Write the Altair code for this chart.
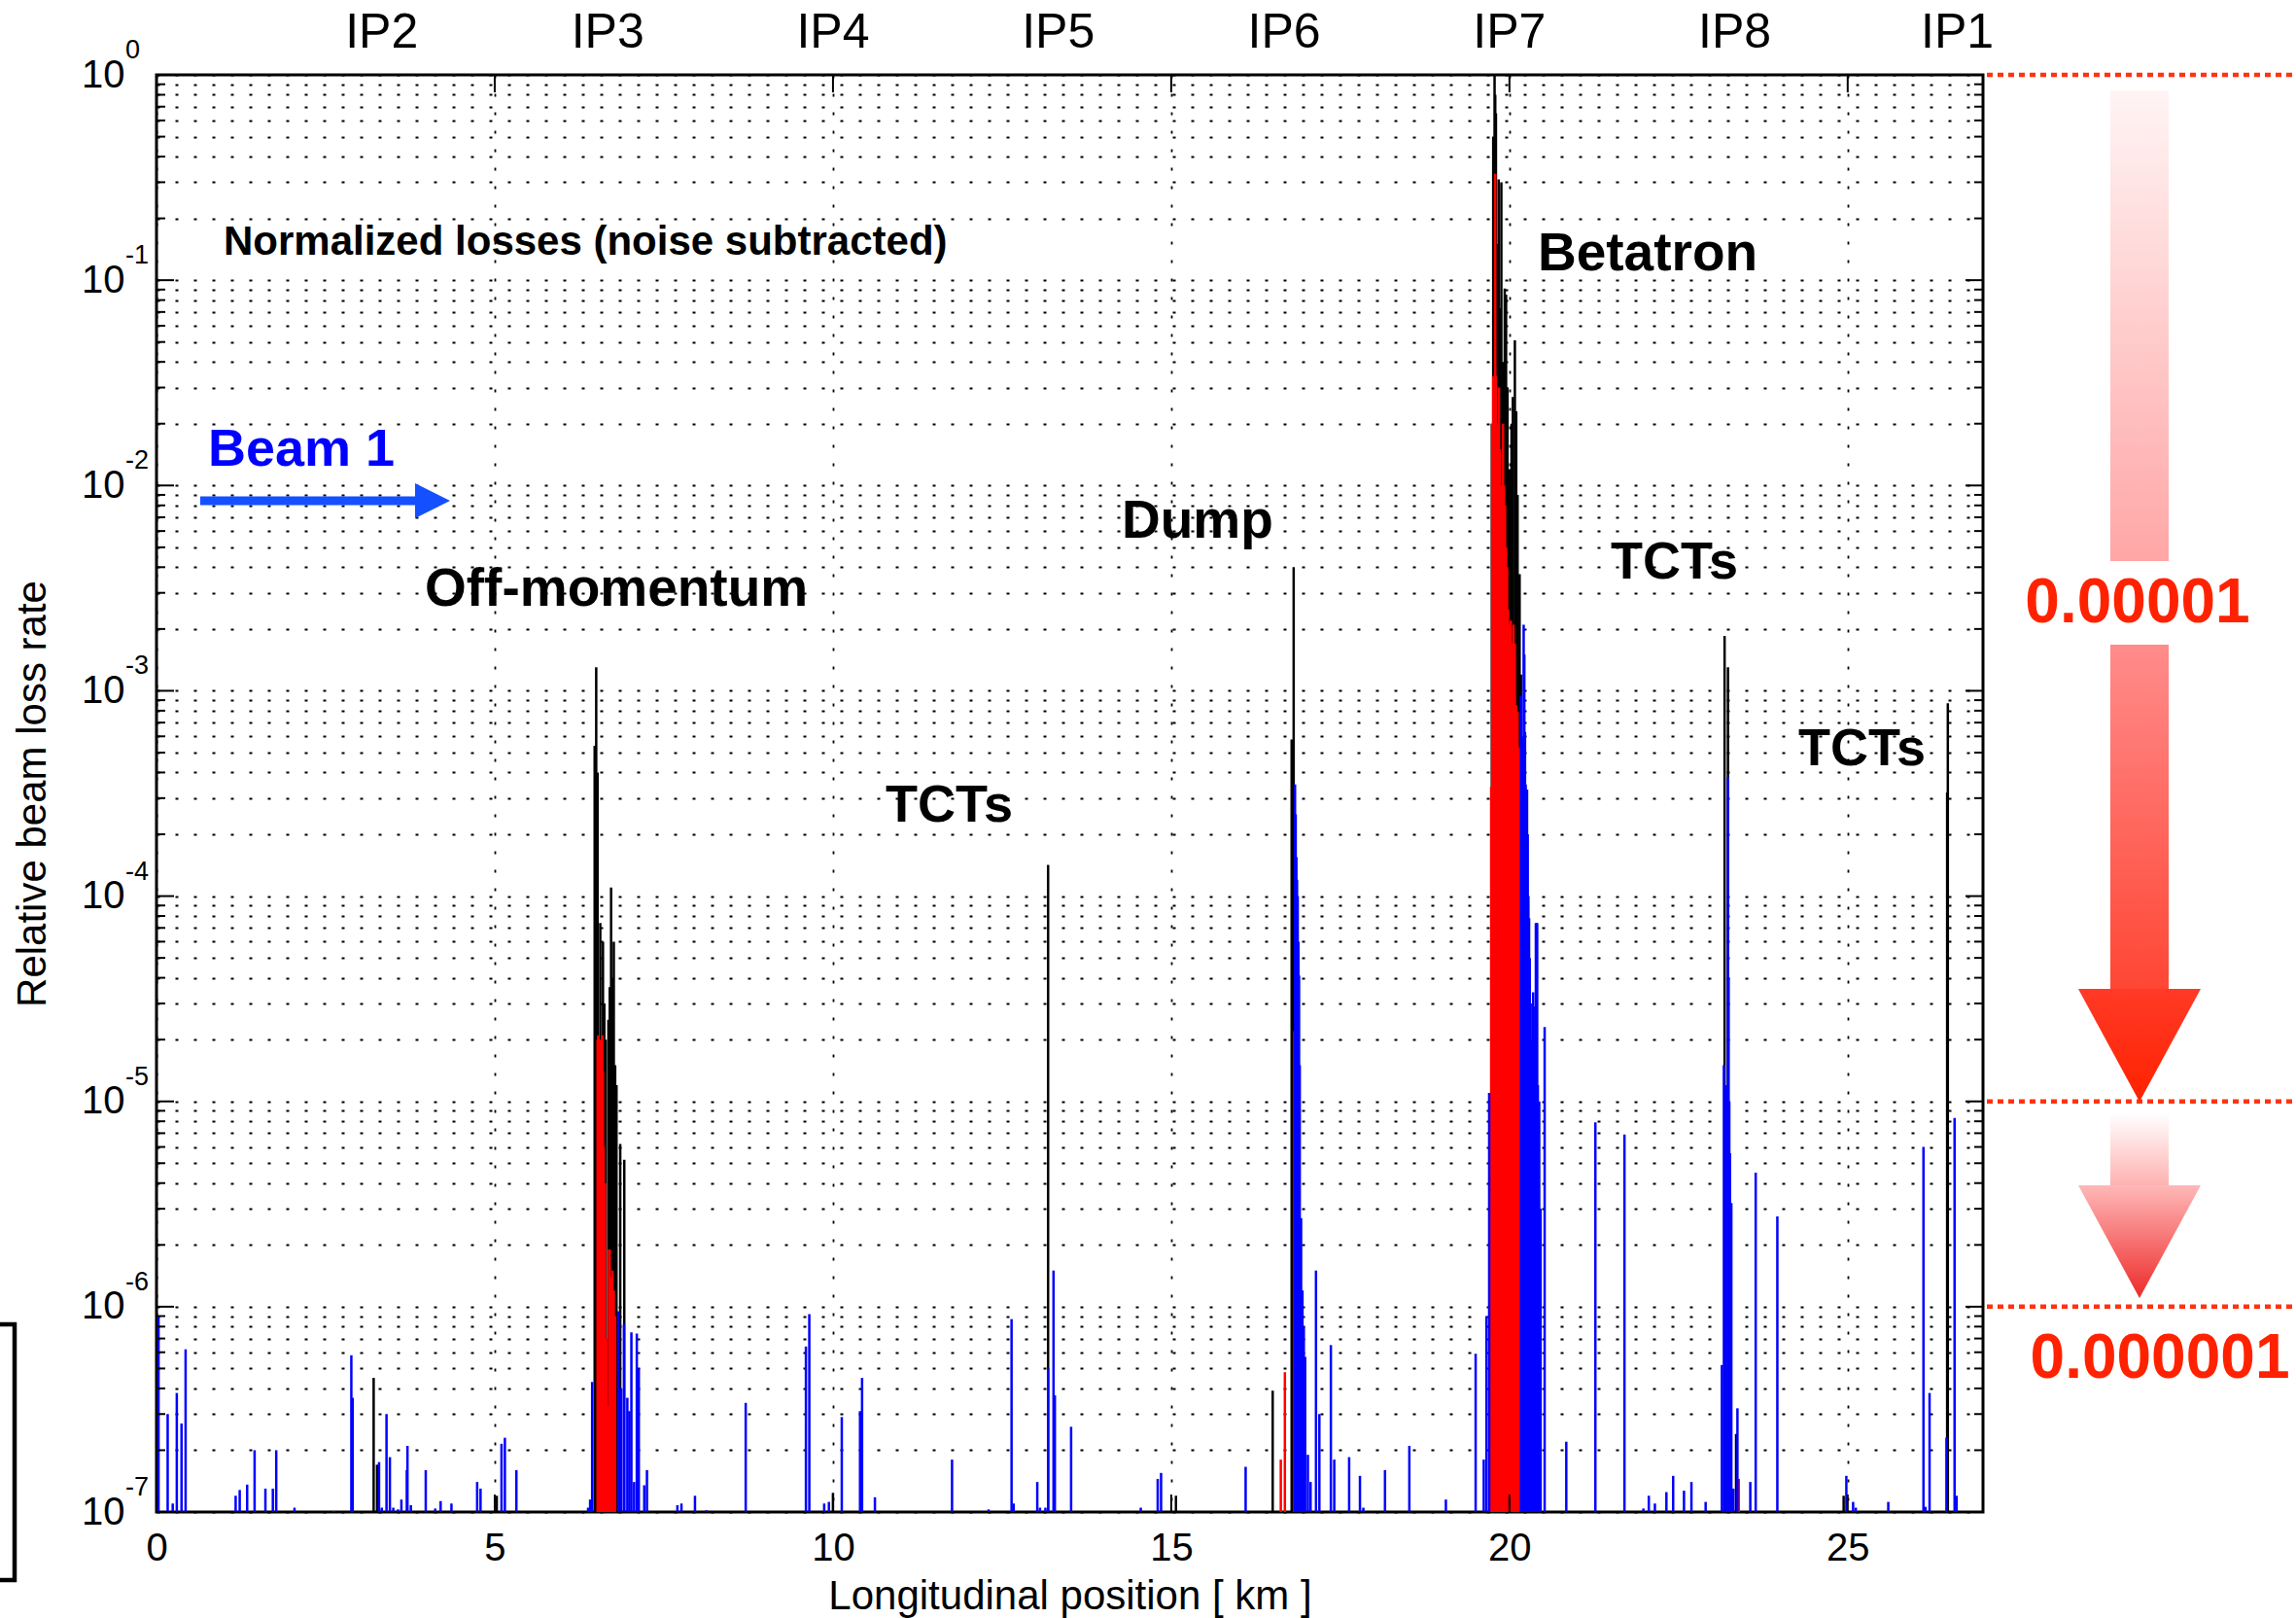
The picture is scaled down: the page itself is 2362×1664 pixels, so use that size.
import altair as alt
import pandas as pd

# ---------------- data (km, relative loss rate) ----------------
black_spikes = [
    (3.21, 4.5e-7), (3.26, 1.7e-7), (5.03, 1.2e-7),
    (6.477, 5.4e-4), (6.50, 1.3e-3), (6.52, 4.0e-4), (6.54, 1.5e-5), (6.56, 7.4e-5),
    (6.60, 6.0e-5), (6.62, 3.0e-5), (6.64, 2.0e-5), (6.68, 2.5e-5), (6.70, 3.6e-5),
    (6.72, 1.1e-4), (6.74, 4.0e-5), (6.76, 6.0e-5), (6.78, 1.5e-5), (6.80, 1.2e-5),
    (6.855, 6.2e-6), (6.915, 5.2e-6),
    (10.00, 1.24e-7), (13.18, 1.42e-4), (15.07, 1.2e-7),
    (16.50, 3.9e-7), (16.78, 5.8e-4), (16.81, 4.0e-3),
    (19.74, 0.02), (19.76, 0.5), (19.78, 1.0), (19.79, 0.8), (19.80, 0.65), (19.82, 0.15),
    (19.84, 0.31), (19.86, 0.073), (19.88, 0.30), (19.90, 0.04), (19.93, 0.091),
    (19.95, 0.085), (19.97, 0.03), (20.00, 0.012), (20.03, 0.02), (20.05, 0.027),
    (20.08, 0.051), (20.10, 0.023), (20.12, 0.009), (20.15, 3.7e-3), (20.17, 1.2e-3),
    (20.19, 5.0e-4),
    (23.18, 1.85e-3), (23.23, 1.3e-3), (23.35, 2.4e-7), (24.94, 1.2e-7),
    (26.47, 3.2e-4), (26.48, 8.7e-4),
]

red_spikes = [
    (6.52, 2.0e-5), (6.53, 2.1e-5), (6.54, 2.0e-5), (6.55, 1.6e-5), (6.56, 1.2e-5),
    (6.57, 2.0e-5), (6.58, 1.8e-5), (6.59, 2.1e-5), (6.60, 1.4e-5), (6.61, 6.0e-6),
    (6.63, 4.0e-6), (6.65, 7.0e-7), (6.67, 3.3e-7), (6.69, 1.9e-6), (6.70, 1.9e-6),
    (6.72, 1.4e-6), (6.74, 1.5e-6), (6.76, 1.2e-6), (6.78, 9.0e-7),
    (16.62, 1.8e-7), (16.68, 4.8e-7), (16.82, 2.2e-5), (16.84, 1.4e-5), (16.86, 3.0e-6),
    (16.88, 1.0e-6),
    (19.73, 3.4e-4), (19.745, 0.02), (19.76, 0.034), (19.775, 0.03), (19.79, 0.33),
    (19.80, 0.034), (19.815, 0.02), (19.83, 0.015), (19.845, 0.03), (19.86, 0.015),
    (19.875, 0.006), (19.89, 0.01), (19.905, 0.02), (19.92, 0.01), (19.935, 0.008),
    (19.95, 0.005), (19.965, 0.004), (19.98, 2.5e-3), (20.00, 2.1e-3), (20.02, 2.2e-3),
    (20.04, 1.7e-3), (20.06, 2.1e-3), (20.08, 1.7e-3), (20.10, 8.5e-4), (20.12, 7.9e-4),
    (20.14, 5.3e-4), (20.16, 5.2e-4), (20.18, 3.0e-4),
    (23.39, 1.45e-7),
]

blue_spikes = [
    (0.02, 1.2e-7), (0.03, 9.0e-7), (0.165, 3.0e-7), (0.24, 1.1e-7), (0.30, 3.8e-7),
    (0.37, 2.7e-7), (0.43, 6.2e-7),
    (1.17, 1.2e-7), (1.23, 1.28e-7), (1.34, 1.36e-7), (1.45, 2.0e-7), (1.61, 1.3e-7),
    (1.72, 1.3e-7), (1.77, 2.0e-7), (2.04, 1.05e-7), (2.62, 1.01e-7), (2.88, 5.8e-7),
    (2.90, 3.6e-7),
    (3.29, 1.75e-7), (3.33, 1.05e-7), (3.40, 3.0e-7), (3.45, 1.85e-7), (3.50, 1.05e-7),
    (3.57, 1.03e-7), (3.62, 1.15e-7), (3.70, 1.6e-7), (3.71, 2.1e-7), (3.76, 1.08e-7),
    (3.98, 1.6e-7), (4.12, 1.04e-7), (4.20, 1.13e-7), (4.36, 1.1e-7), (4.74, 1.4e-7),
    (4.79, 1.3e-7), (5.10, 2.15e-7), (5.15, 2.3e-7), (5.32, 1.6e-7),
    (6.38, 1.05e-7), (6.41, 1.15e-7), (6.44, 4.3e-7),
    (6.83, 9.5e-7), (6.87, 4.0e-7), (6.91, 8.2e-7), (6.96, 3.6e-7), (6.99, 3.1e-7),
    (7.02, 7.5e-7), (7.06, 1.4e-7), (7.10, 7.4e-7), (7.13, 5.0e-7), (7.21, 1.35e-7),
    (7.25, 1.6e-7),
    (7.70, 1.08e-7), (7.76, 1.1e-7), (7.96, 1.2e-7), (8.13, 1.02e-7), (8.71, 3.4e-7),
    (9.60, 6.4e-7), (9.65, 9.2e-7), (9.87, 1.1e-7), (9.94, 1.12e-7), (10.13, 2.9e-7),
    (10.40, 3.1e-7), (10.43, 4.5e-7), (10.62, 1.18e-7), (11.76, 1.8e-7), (12.30, 1.03e-7),
    (12.64, 8.7e-7), (12.67, 1.1e-7), (13.02, 1.4e-7), (13.06, 1.05e-7), (13.14, 1.05e-7),
    (13.18, 5.0e-7), (13.26, 1.5e-6), (13.28, 3.7e-7), (13.52, 2.6e-7),
    (14.55, 1.05e-7), (14.80, 1.45e-7), (14.85, 1.55e-7), (16.10, 1.66e-7),
    (16.83, 3.5e-4), (16.84, 2.5e-4), (16.85, 1.55e-4), (16.86, 1.2e-4), (16.87, 1.0e-4),
    (16.88, 6.0e-5), (16.89, 4.1e-5), (16.90, 1.5e-5), (16.92, 2.7e-6), (16.94, 1.2e-6),
    (16.96, 8.0e-7), (16.98, 5.7e-7), (17.02, 1.9e-7), (17.06, 1.4e-7), (17.14, 1.5e-6),
    (17.19, 3.0e-7), (17.36, 6.5e-7), (17.41, 1.8e-7), (17.63, 1.85e-7), (17.79, 1.5e-7),
    (17.84, 1.05e-7), (18.16, 1.6e-7), (18.52, 2.1e-7), (19.06, 1.15e-7),
    (19.50, 5.9e-7), (19.62, 1.8e-7), (19.66, 9.0e-7), (19.70, 1.1e-5),
    (20.17, 9.4e-4), (20.19, 6.0e-4), (20.21, 2.1e-3), (20.22, 1.5e-3), (20.23, 6.3e-4),
    (20.24, 3.5e-4), (20.25, 1.3e-4), (20.26, 3.3e-4), (20.27, 2.0e-4), (20.28, 1.0e-4),
    (20.29, 7.8e-5), (20.30, 5.0e-5), (20.31, 3.0e-5), (20.32, 2.0e-5), (20.33, 1.5e-5),
    (20.34, 3.0e-5), (20.35, 3.4e-5), (20.36, 2.0e-5), (20.37, 1.5e-5), (20.38, 2.9e-5),
    (20.39, 7.4e-5), (20.40, 4.5e-5), (20.41, 7.4e-5), (20.42, 1.2e-5), (20.44, 1.0e-5),
    (20.46, 3.0e-6), (20.52, 2.3e-5),
    (20.84, 2.2e-7), (21.27, 7.9e-6), (21.70, 6.9e-6), (21.98, 1.04e-7), (22.06, 1.2e-7),
    (22.15, 1.1e-7), (22.32, 1.25e-7), (22.42, 1.5e-7), (22.58, 1.27e-7), (22.69, 1.4e-7),
    (22.90, 1.12e-7),
    (23.14, 5.2e-7), (23.17, 1.5e-5), (23.20, 1.2e-5), (23.23, 3.8e-4), (23.24, 4.0e-5),
    (23.25, 1.0e-5), (23.26, 5.6e-6), (23.27, 1.5e-6), (23.28, 3.2e-6), (23.31, 1.3e-7),
    (23.37, 3.2e-7), (23.56, 1.4e-7), (23.64, 4.5e-6), (23.96, 2.75e-6),
    (24.98, 1.5e-7), (25.08, 1.12e-7), (25.12, 1.05e-7), (25.60, 1.12e-7), (26.12, 6.0e-6),
    (26.15, 1.06e-7), (26.21, 3.8e-7), (26.46, 2.3e-7), (26.58, 8.3e-6), (26.61, 1.2e-7),
]

ip_names = ["IP2", "IP3", "IP4", "IP5", "IP6", "IP7", "IP8", "IP1"]
ip_km = [3.33, 6.67, 10.0, 13.33, 16.67, 20.0, 23.33, 26.62]
x_tick_km = [0, 5, 10, 15, 20, 25]
y_exponents = [0, -1, -2, -3, -4, -5, -6, -7]
threshold_levels = [1.0, 1e-5, 1e-6]

# ---------------- layout ----------------
W, H = 1879, 1478
DEC = H / 7.0
FONT = "Liberation Sans, Arial, sans-serif"
BOLD = "Liberation Sans, Arial, sans-serif"


def lv(px_from_top):
    """y value (data units, log axis) at a pixel offset from the top of the plot."""
    return 10 ** (-px_from_top / DEC)


xs = alt.Scale(domain=[0, 27], nice=False, zero=False)
ys = alt.Scale(type="log", domain=[1e-7, 1], nice=False)

y_grid_vals = [k * 10.0 ** e for e in range(-7, 0) for k in range(1, 10)] + [1.0]
y_major = [10.0 ** e for e in y_exponents]
y_minor = [v for v in y_grid_vals if all(abs(v / m - 1) > 1e-9 for m in y_major)]

xaxis = alt.Axis(
    values=x_tick_km, grid=True, gridDash=[3, 16], gridColor="#000", gridWidth=1.8,
    ticks=False, domain=False, labelFont=FONT, labelFontSize=40, labelColor="#000",
    labelPadding=17, labelFlush=False,
    title="Longitudinal position [ km ]", titleFont=FONT, titleFontSize=42,
    titleFontWeight="normal", titleColor="#000", titleX=W / 2, titleY=86,
    titleBaseline="middle", titleAlign="center",
)
yaxis = alt.Axis(
    values=y_grid_vals, grid=True, gridDash=[3, 16], gridColor="#000", gridWidth=1.8,
    ticks=False, domain=False,
    labelExpr="abs(log(datum.value)/LN10 - round(log(datum.value)/LN10)) < 0.001 ? '10' : ''",
    labelFont=FONT, labelFontSize=40, labelColor="#000", labelPadding=33,
    labelOverlap=False, labelFlush=False, labelBaseline="middle",
    title="Relative beam loss rate", titleFont=FONT, titleFontSize=42,
    titleFontWeight="normal", titleColor="#000", titleX=-128, titleY=H / 2,
    titleAngle=270, titleBaseline="middle", titleAlign="center",
)


def X(field):
    return alt.X(field, scale=xs, axis=xaxis)


def Y(field):
    return alt.Y(field, scale=ys, axis=yaxis)


def spikes(pairs, color):
    df = pd.DataFrame(pairs, columns=["km", "val"])
    return alt.Chart(df).mark_rule(color=color, strokeWidth=2.5).encode(
        x=X("km:Q"), y=Y("val:Q"), y2=alt.datum(1e-7),
    )


def note(text, x, y, size, color="black", font=BOLD, weight="bold", align="left"):
    return alt.Chart(pd.DataFrame({"t": [text]})).mark_text(
        align=align, baseline="middle", fontSize=size, fontWeight=weight,
        color=color, font=font,
    ).encode(x=alt.value(x), y=alt.value(y), text="t:N")


def vgrad(c0, c1):
    return alt.LinearGradient(
        gradient="linear",
        stops=[alt.GradientStop(color=c0, offset=0), alt.GradientStop(color=c1, offset=1)],
        x1=0, x2=0, y1=0, y2=1,
    )


layers = []
layers.append(spikes(black_spikes, "#000000"))
layers.append(spikes(red_spikes, "#ff0000"))
layers.append(spikes(blue_spikes, "#0000ff"))

# inward ticks
maj = pd.DataFrame({"v": y_major})
mnr = pd.DataFrame({"v": y_minor})
for d, L in ((maj, 18), (mnr, 9)):
    layers.append(alt.Chart(d).mark_rule(color="black", strokeWidth=2).encode(
        y=Y("v:Q"), x=alt.value(0), x2=alt.value(L)))
    layers.append(alt.Chart(d).mark_rule(color="black", strokeWidth=2).encode(
        y=Y("v:Q"), x=alt.value(W - L), x2=alt.value(W)))
xt = pd.DataFrame({"km": x_tick_km})
layers.append(alt.Chart(xt).mark_rule(color="black", strokeWidth=2).encode(
    x=X("km:Q"), y=alt.value(H - 18), y2=alt.value(H)))
layers.append(alt.Chart(xt).mark_rule(color="black", strokeWidth=2).encode(
    x=X("km:Q"), y=alt.value(0), y2=alt.value(18)))

# exponents of the y labels
exp_df = pd.DataFrame({"v": y_major, "t": [str(e) for e in y_exponents]})
layers.append(alt.Chart(exp_df).mark_text(
    align="left", baseline="middle", font=FONT, fontSize=27, dy=-25, color="black"
).encode(x=alt.value(-32), y=Y("v:Q"), text="t:N"))

# IP labels on top
ip_df = pd.DataFrame({"km": ip_km, "name": ip_names})
layers.append(alt.Chart(ip_df).mark_text(
    align="center", baseline="middle", font=FONT, fontSize=50, color="black"
).encode(x=X("km:Q"), y=alt.value(-43), text="name:N"))

# annotations
layers.append(note("Normalized losses (noise subtracted)", 69, 172, 42))
layers.append(note("Betatron", 1421, 184, 55))
layers.append(note("Off-momentum", 276, 529, 55))
layers.append(note("Dump", 993, 459, 55))
layers.append(note("TCTs", 750, 752, 54))
layers.append(note("TCTs", 1496, 502, 54))
layers.append(note("TCTs", 1689, 694, 54))
layers.append(note("Beam 1", 53, 386, 54, color="#0000ff"))

# beam arrow
layers.append(alt.Chart(pd.DataFrame({"a": [0]})).mark_rule(
    color="#1450ff", strokeWidth=9).encode(
    x=alt.value(45), x2=alt.value(272), y=alt.value(438)))
layers.append(alt.Chart(pd.DataFrame({"a": [0]})).mark_point(
    shape="M-1,-1L1,0L-1,1Z", size=36 * 36, filled=True, color="#1450ff", opacity=1,
    strokeWidth=0).encode(x=alt.value(284), y=alt.value(438)))

# right-hand threshold lines
thr = pd.DataFrame({"v": threshold_levels})
layers.append(alt.Chart(thr).mark_rule(
    color="#ff3311", strokeWidth=4.5, strokeDash=[6, 5]).encode(
    y=Y("v:Q"), x=alt.value(W + 4), x2=alt.value(W + 330)))


def shaft(top_px, bot_px, c0, c1):
    d = pd.DataFrame({"a": [lv(top_px)], "b": [lv(bot_px)]})
    return alt.Chart(d).mark_rect(color=vgrad(c0, c1), opacity=1).encode(
        x=alt.value(2010), x2=alt.value(2070), y=Y("a:Q"), y2="b:Q")


def head(center_px, c0, c1):
    d = pd.DataFrame({"c": [lv(center_px)]})
    return alt.Chart(d).mark_point(
        shape="M-1,-0.92L1,-0.92L0,0.92Z", size=126 * 126, filled=True,
        color=vgrad(c0, c1), opacity=1, strokeWidth=0).encode(
        x=alt.value(2040), y=Y("c:Q"))


layers.append(shaft(16, 500, "#fff4f4", "#ffa6a6"))
layers.append(shaft(586, 940, "#ff8c8c", "#ff4634"))
layers.append(head(998, "#ff3a26", "#ff2200"))
layers.append(shaft(1068, 1143, "#ffffff", "#ffb0b0"))
layers.append(head(1200, "#ffb8b8", "#ee2a2a"))
layers.append(note("0.00001", 2038, 544, 64, color="#ff2200", align="center"))
layers.append(note("0.000001", 2061, 1321, 64, color="#ff2200", align="center"))

# fragment of a cropped frame at the bottom-left edge
layers.append(alt.Chart(pd.DataFrame({"a": [0]})).mark_rule(
    color="black", strokeWidth=4.5).encode(
    x=alt.value(-146), y=alt.value(1283), y2=alt.value(1550)))
layers.append(alt.Chart(pd.DataFrame({"a": [0]})).mark_rule(
    color="black", strokeWidth=4.5).encode(
    x=alt.value(-162), x2=alt.value(-144), y=alt.value(1285)))
layers.append(alt.Chart(pd.DataFrame({"a": [0]})).mark_rule(
    color="black", strokeWidth=4.5).encode(
    x=alt.value(-162), x2=alt.value(-144), y=alt.value(1548)))

chart = alt.layer(*layers).properties(
    width=W, height=H,
    autosize=alt.AutoSizeParams(type="none"),
    padding={"left": 161, "top": 77, "right": 322, "bottom": 109},
    background="white",
).configure_view(stroke="black", strokeWidth=3)

chart.save("out.html", embed_options={"renderer": "svg", "actions": False})
